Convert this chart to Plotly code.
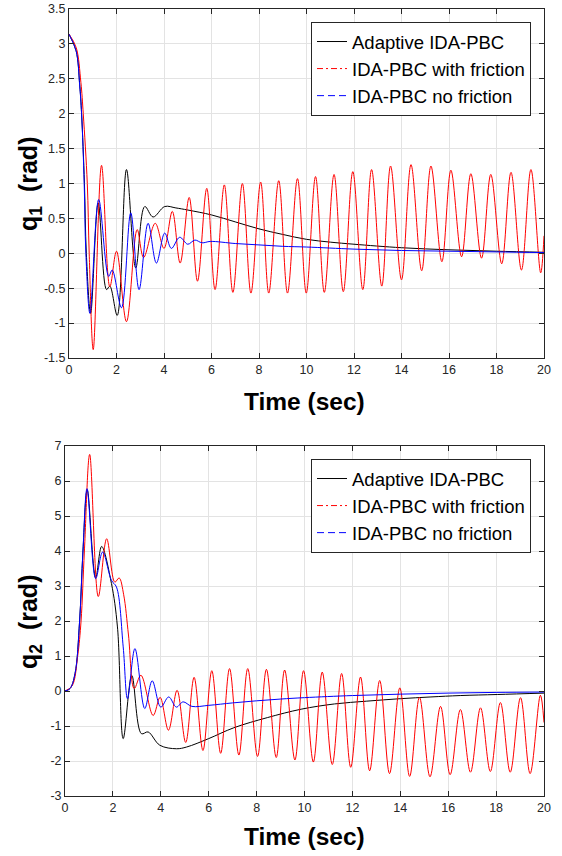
import plotly.graph_objects as go

# ---------------- data ----------------
# Top plot: q1 (rad)
q1_adaptive_t = [0, 0.3, 0.45, 0.53, 0.65, 0.73, 0.91, 1.23, 1.58, 1.72, 2.03, 2.42, 2.81, 3.19, 3.54, 4.03,
                 4.5, 5.0, 6.0, 7.0, 8.0, 9.0, 10.0, 11.0, 12.0, 14.0, 16.0, 18.0, 20.0]
q1_adaptive_v = [3.14, 2.9, 2.42, 2.0, 1.0, 0.0, -0.86, 0.72, -0.52, -0.47, -0.89, 1.2, -0.21, 0.67, 0.52, 0.67,
                 0.65, 0.62, 0.55, 0.45, 0.35, 0.27, 0.2, 0.16, 0.13, 0.08, 0.05, 0.03, 0.015]

q1_friction_t = [0, 0.3, 0.5, 0.6, 0.77, 0.85, 1.02, 1.37, 1.72, 2.0, 2.42, 2.87, 3.14, 3.63, 4.0, 4.35, 4.68,
                 5.06, 5.41, 5.8, 6.15, 6.54, 6.9, 7.3, 7.66, 8.07, 8.41, 8.83, 9.2, 9.62, 9.99, 10.38, 10.75,
                 11.16, 11.55, 11.95, 12.37, 12.74, 13.17, 13.54, 14.0, 14.4, 14.85, 15.24, 15.7, 16.08, 16.53,
                 16.92, 17.37, 17.76, 18.22, 18.61, 19.05, 19.45, 19.86, 20.0]
q1_friction_v = [3.14, 2.95, 2.45, 2.0, 1.0, 0.0, -1.38, 1.26, -0.48, 0.03, -0.98, 0.34, -0.06, 0.43, 0.07, 0.6,
                 -0.14, 0.8, -0.4, 0.93, -0.52, 0.98, -0.56, 1.0, -0.57, 1.02, -0.57, 1.04, -0.57, 1.07, -0.57,
                 1.1, -0.56, 1.13, -0.55, 1.17, -0.52, 1.2, -0.47, 1.25, -0.38, 1.27, -0.25, 1.25, -0.12, 1.19,
                 -0.05, 1.14, -0.07, 1.13, -0.15, 1.16, -0.24, 1.2, -0.28, 0.25]

q1_nofric_t = [0, 0.3, 0.45, 0.53, 0.64, 0.71, 0.88, 1.25, 1.67, 1.82, 2.21, 2.6, 2.95, 3.33, 3.68, 4.03, 4.31,
               4.66, 5.0, 5.3, 5.6, 5.95, 7.0, 8.0, 9.0, 10.0, 12.0, 14.0, 16.0, 18.0, 20.0]
q1_nofric_v = [3.14, 2.9, 2.4, 2.0, 1.0, 0.0, -0.86, 0.77, -0.33, -0.24, -0.78, 0.58, -0.52, 0.43, -0.14, 0.29,
               0.07, 0.23, 0.13, 0.19, 0.15, 0.17, 0.14, 0.12, 0.1, 0.09, 0.06, 0.04, 0.03, 0.02, 0.01]

# Bottom plot: q2 (rad)
q2_adaptive_t = [0, 0.21, 0.42, 0.61, 0.75, 0.93, 1.28, 1.53, 1.94, 2.19, 2.43, 2.79, 3.19, 3.47, 3.96, 4.66,
                 5.08, 6.0, 7.05, 8.45, 9.86, 11.25, 12.6, 14.0, 15.28, 16.5, 18.05, 20.0]
q2_adaptive_v = [0, 0.07, 0.5, 2.0, 4.0, 5.75, 3.24, 4.13, 3.07, 1.83, -1.36, 0.44, -1.22, -1.17, -1.55, -1.65,
                 -1.6, -1.36, -1.05, -0.76, -0.52, -0.37, -0.29, -0.22, -0.17, -0.13, -0.1, -0.06]

q2_friction_t = [0, 0.3, 0.53, 0.67, 0.81, 1.03, 1.39, 1.74, 2.08, 2.26, 2.45, 2.65, 2.89, 3.17, 3.68, 3.97,
                 4.32, 4.68, 5.04, 5.39, 5.76, 6.13, 6.5, 6.87, 7.26, 7.63, 8.04, 8.41, 8.82, 9.17, 9.6, 9.96,
                 10.37, 10.74, 11.16, 11.55, 11.93, 12.34, 12.72, 13.14, 13.55, 13.98, 14.39, 14.8, 15.24,
                 15.68, 16.08, 16.51, 16.93, 17.35, 17.76, 18.18, 18.59, 19.02, 19.42, 19.85, 20.0]
q2_friction_v = [0, 0.15, 1.0, 2.0, 4.0, 6.76, 2.7, 4.35, 3.11, 3.23, 2.75, 1.6, 0.07, 0.45, -0.7, -0.18,
                 -1.12, 0.02, -1.47, 0.39, -1.7, 0.58, -1.78, 0.64, -1.83, 0.64, -1.87, 0.62, -1.9, 0.6, -1.97,
                 0.58, -2.03, 0.54, -2.1, 0.5, -2.18, 0.4, -2.28, 0.3, -2.36, 0.09, -2.44, -0.18, -2.45, -0.44,
                 -2.39, -0.53, -2.32, -0.48, -2.3, -0.33, -2.32, -0.19, -2.36, -0.12, -0.9]

q2_nofric_t = [0, 0.21, 0.42, 0.61, 0.75, 0.92, 1.28, 1.57, 1.94, 2.15, 2.43, 2.61, 2.92, 3.33, 3.64, 4.0, 4.33,
               4.65, 4.93, 5.3, 6.0, 7.0, 8.0, 9.0, 10.0, 12.0, 14.0, 16.0, 18.0, 20.0]
q2_nofric_v = [0, 0.07, 0.5, 2.0, 4.0, 5.78, 3.21, 3.97, 3.16, 2.97, 1.26, -0.22, 1.21, -0.5, 0.29, -0.46, -0.17,
               -0.46, -0.31, -0.44, -0.41, -0.34, -0.28, -0.23, -0.19, -0.13, -0.09, -0.06, -0.04, -0.03]

series_names = ["Adaptive IDA-PBC", "IDA-PBC with friction", "IDA-PBC no friction"]
x_ticks = [0, 2, 4, 6, 8, 10, 12, 14, 16, 18, 20]
y1_ticks = [-1.5, -1, -0.5, 0, 0.5, 1, 1.5, 2, 2.5, 3, 3.5]
y2_ticks = [-3, -2, -1, 0, 1, 2, 3, 4, 5, 6, 7]

# ---------------- styling ----------------
W, H = 562, 856
FONT = "Liberation Sans, Arial, Helvetica, sans-serif"
AX = "#262626"
GRID = "#e3e3e3"
colors = ["#000000", "#ff0000", "#0000ff"]
legend_dash = ["solid", "6px,3px,2px,3px", "7px,4px"]


def px_x(p):
    return p / W


def px_y(p):
    return 1 - p / H


fig = go.Figure()

panels = [
    (q1_adaptive_t, q1_adaptive_v, q1_friction_t, q1_friction_v, q1_nofric_t, q1_nofric_v, "x", "y", "legend"),
    (q2_adaptive_t, q2_adaptive_v, q2_friction_t, q2_friction_v, q2_nofric_t, q2_nofric_v, "x2", "y2", "legend2"),
]

for (ta, va, tf, vf, tn, vn, xa, ya, lg) in panels:
    data = [(ta, va), (tf, vf), (tn, vn)]
    for i, (t, v) in enumerate(data):
        fig.add_trace(go.Scatter(
            x=t, y=v, mode="lines", xaxis=xa, yaxis=ya,
            line=dict(color=colors[i], width=1, shape="spline", smoothing=1.0),
            showlegend=False, hoverinfo="skip"))
    for i in range(3):
        fig.add_trace(go.Scatter(
            x=[None], y=[None], mode="lines", xaxis=xa, yaxis=ya,
            name=series_names[i], legend=lg,
            line=dict(color=colors[i], width=1, dash=legend_dash[i])))

axis_common = dict(
    showline=True, linecolor=AX, linewidth=1, mirror="allticks",
    ticks="inside", ticklen=5, tickcolor=AX, tickwidth=1,
    showgrid=True, gridcolor=GRID, gridwidth=1, zeroline=False,
    automargin=False,
    tickfont=dict(family=FONT, size=12.5, color=AX),
)

legend_common = dict(
    xanchor="right", yanchor="top",
    bgcolor="white", bordercolor=AX, borderwidth=1,
    font=dict(family=FONT, size=18.5, color="#000000"),
    itemwidth=30, tracegroupgap=0,
)

fig.update_layout(
    width=W, height=H,
    margin=dict(l=0, r=0, t=0, b=0, autoexpand=False),
    paper_bgcolor="white", plot_bgcolor="white",
    font=dict(family=FONT, color="#000000"),
    xaxis=dict(domain=[px_x(69), px_x(544)], range=[0, 20], tickvals=x_ticks,
               ticktext=[str(v) for v in x_ticks], anchor="y", **axis_common),
    yaxis=dict(domain=[px_y(358), px_y(9)], range=[-1.5, 3.5], tickvals=y1_ticks,
               ticktext=[("%g" % v) for v in y1_ticks], anchor="x", **axis_common),
    xaxis2=dict(domain=[px_x(65), px_x(544)], range=[0, 20], tickvals=x_ticks,
                ticktext=[str(v) for v in x_ticks], anchor="y2", **axis_common),
    yaxis2=dict(domain=[px_y(796), px_y(446)], range=[-3, 7], tickvals=y2_ticks,
                ticktext=[("%g" % v) for v in y2_ticks], anchor="x2", **axis_common),
    legend=dict(x=px_x(531), y=px_y(22), **legend_common),
    legend2=dict(x=px_x(531), y=px_y(459), **legend_common),
    showlegend=True,
)

xt_font = dict(family=FONT, size=24.5, color="#000000")
yt_font = dict(family=FONT, size=25, color="#000000")
annotations = [
    dict(text="<b>Time (sec)</b>", x=px_x(304), y=px_y(401), font=xt_font),
    dict(text="<b>Time (sec)</b>", x=px_x(304), y=px_y(836), font=xt_font),
    dict(text="<b>q<sub>1</sub>&nbsp;&nbsp;(rad)</b>", x=px_x(30), y=px_y(184), textangle=-90, font=yt_font),
    dict(text="<b>q<sub>2</sub>&nbsp;&nbsp;(rad)</b>", x=px_x(30), y=px_y(622), textangle=-90, font=yt_font),
]
for a in annotations:
    fig.add_annotation(xref="paper", yref="paper", showarrow=False,
                       xanchor="center", yanchor="middle", **a)

# remove the default page margin so the figure sits at the window's top-left corner
fig.write_html("out.html", config={"displayModeBar": False},
               post_script="document.body.style.margin='0px';")
